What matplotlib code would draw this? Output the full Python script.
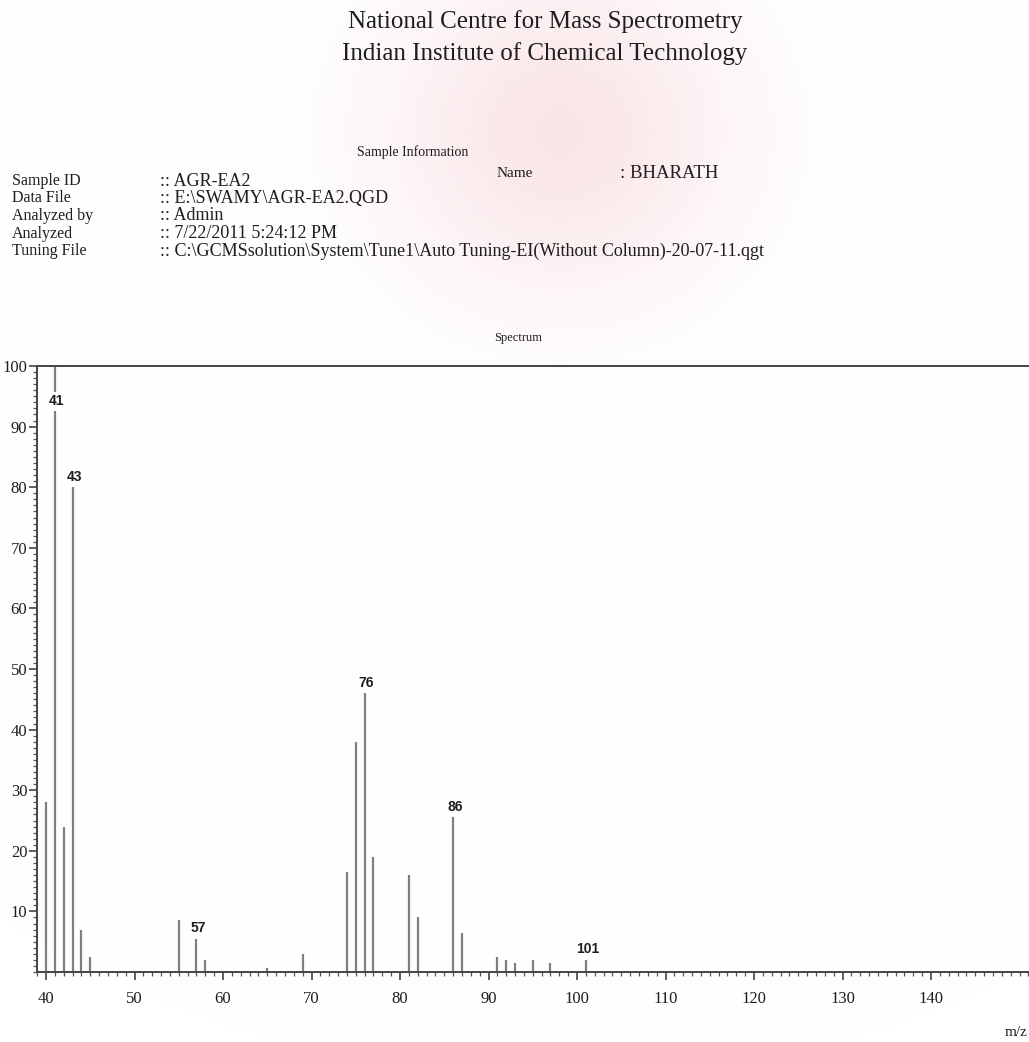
import numpy as np
import matplotlib
matplotlib.use("Agg")
import matplotlib.pyplot as plt
from matplotlib.ticker import MultipleLocator

# spectrum (m/z, relative intensity %)
mz = [40, 41, 42, 43, 44, 45, 55, 57, 58, 65, 69, 74, 75, 76, 77, 81, 82,
      86, 87, 91, 92, 93, 95, 97, 101]
intensity = [28, 100, 24, 80, 7, 2.5, 8.5, 5.5, 2, 0.6, 3, 16.5, 38, 46, 19,
             16, 9, 25.5, 6.5, 2.5, 2, 1.5, 2, 1.5, 2]
labelled = [41, 43, 57, 76, 86, 101]

info_keys = ["Sample ID", "Data File", "Analyzed by", "Analyzed", "Tuning File"]
info_vals = [":: AGR-EA2", ":: E:\\SWAMY\\AGR-EA2.QGD", ":: Admin",
             ":: 7/22/2011 5:24:12 PM",
             ":: C:\\GCMSsolution\\System\\Tune1\\Auto Tuning-EI(Without Column)-20-07-11.qgt"]

W, H = 1029, 1042
fig = plt.figure(figsize=(W / 100, H / 100), dpi=100)
fig.patch.set_facecolor("white")

def fx(px):
    return px / W

def fy(py):
    return 1 - py / H

# faint pink stain of the scanned page
bg = fig.add_axes([0, 0, 1, 1], zorder=-5)
yy, xx = np.mgrid[0:H:4, 0:W:4]
blob = np.exp(-(((xx - 560) / 170.0) ** 2 + ((yy - 130) / 160.0) ** 2))
img = np.ones(blob.shape + (3,))
img[..., 1] -= 0.10 * blob
img[..., 2] -= 0.09 * blob
img[..., 0] -= 0.02 * blob
bg.imshow(img, extent=(0, W, H, 0), aspect="auto")
bg.axis("off")

serif = "Liberation Serif"
ink = "#1e1e1e"
fig.text(fx(545), fy(22), "National Centre for Mass Spectrometry", ha="center",
         va="center", fontsize=18, family=serif, color=ink)
fig.text(fx(545), fy(54), "Indian Institute of Chemical Technology", ha="center",
         va="center", fontsize=18, family=serif, color=ink)
fig.text(fx(413), fy(152), "Sample Information", ha="center", va="center",
         fontsize=10, family=serif, color=ink)
fig.text(fx(497), fy(173), "Name", ha="left", va="center", fontsize=11,
         family=serif, color=ink)
fig.text(fx(620), fy(173), ": BHARATH", ha="left", va="center", fontsize=13.5,
         family=serif, color=ink)
for i, (k, v) in enumerate(zip(info_keys, info_vals)):
    y = 181 + i * 17.5
    fig.text(fx(12), fy(y), k, ha="left", va="center", fontsize=11.5,
             family=serif, color=ink)
    fig.text(fx(160), fy(y), v, ha="left", va="center", fontsize=13,
             family=serif, color=ink)

fig.text(fx(518), fy(338), "Spectrum", ha="center", va="center", fontsize=9,
         family=serif, color=ink)

# plot area: x from px 37 to right edge, y 100 at px 366, 0 at px 972
ax = fig.add_axes([fx(37), fy(972), fx(W - 37), (972 - 366) / H])
ax.patch.set_alpha(0)
ax.vlines(mz, 0, intensity, color="#808080", lw=1.6, zorder=2)
for m, v in zip(mz, intensity):
    if m in labelled:
        ax.text(m + 0.2, min(v + 0.6, 93), str(m), ha="center", va="bottom",
                fontsize=10, family="Liberation Sans", fontweight="bold",
                color=ink, zorder=3,
                bbox=dict(facecolor="white", edgecolor="none", pad=1.5))

ax.set_xlim(38.98, 151.07)
ax.set_ylim(0, 100)
ax.spines["right"].set_visible(False)
for s in ["left", "top", "bottom"]:
    ax.spines[s].set_color("#444")
    ax.spines[s].set_linewidth(1.4)

ax.xaxis.set_minor_locator(MultipleLocator(1))
ax.yaxis.set_minor_locator(MultipleLocator(1))
ax.set_yticks(range(10, 101, 10))
ax.set_xticks(range(40, 150, 10))
ax.tick_params(axis="both", which="major", length=6, width=1.2, color="#444",
               labelsize=12, pad=8)
ax.tick_params(axis="both", which="minor", length=3, width=0.9, color="#555")
ax.tick_params(axis="y", pad=1)
for lab in ax.get_xticklabels() + ax.get_yticklabels():
    lab.set_family(serif)
    lab.set_color(ink)

fig.text(fx(1005), fy(1033), "m/z", ha="left", va="center", fontsize=11,
         family=serif, color=ink)

fig.savefig("out.png", dpi=100)
